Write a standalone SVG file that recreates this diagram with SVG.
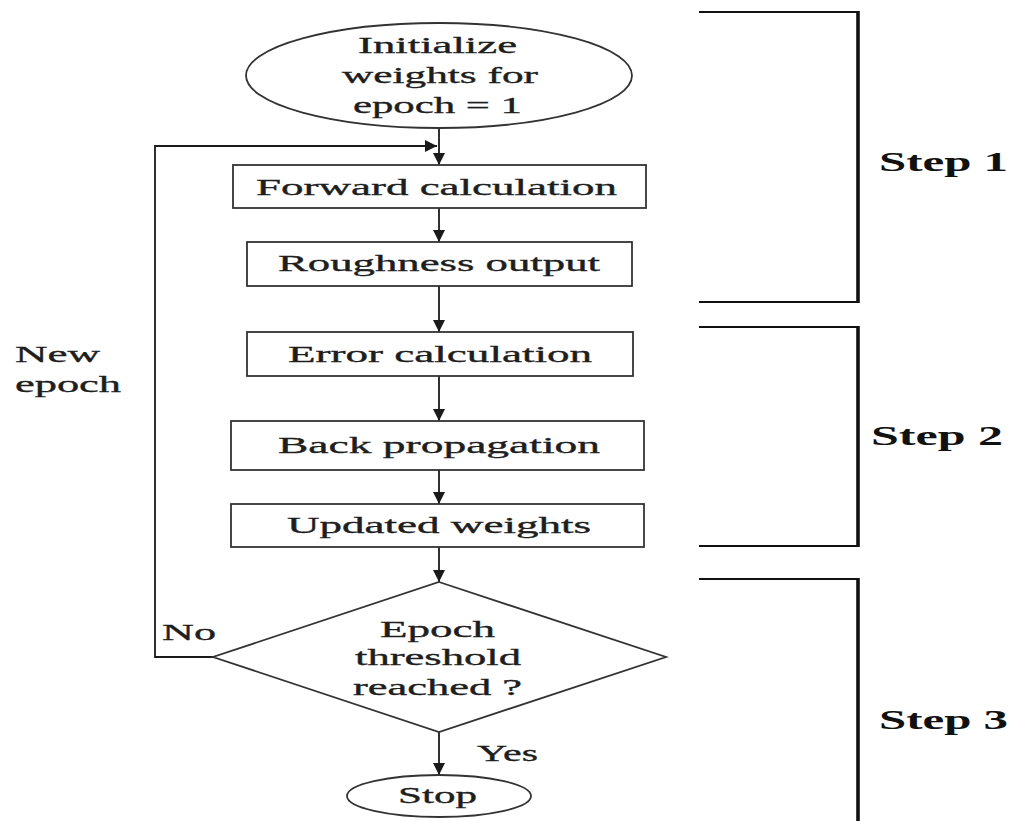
<svg xmlns="http://www.w3.org/2000/svg" width="1014" height="821" viewBox="0 0 1014 821">
<defs>
<marker id="ah" viewBox="0 0 12 12" refX="12" refY="6" markerWidth="12" markerHeight="12" markerUnits="userSpaceOnUse" orient="auto">
<path d="M0,0 L12,6 L0,12 Z" fill="#1a1a1a"/>
</marker>
<style>
.shape{fill:#fff;stroke:#333;stroke-width:1.8}
.t{font-family:"Liberation Serif","Times New Roman",serif;font-size:24px;fill:#1e1e1e;stroke:#1e1e1e;stroke-width:0.35}
.s{font-family:"Liberation Serif","Times New Roman",serif;font-size:27px;font-weight:bold;fill:#111}
.c{fill:none;stroke:#1a1a1a;stroke-width:1.8}
.br{fill:none;stroke:#111;stroke-width:2.2}
.bv{fill:none;stroke:#111;stroke-width:3.6}
</style>
</defs>
<rect width="1014" height="821" fill="#fff"/>

<g id="connectors">
<line class="c" x1="439" y1="128" x2="439" y2="165" marker-end="url(#ah)"/>
<line class="c" x1="439" y1="208" x2="439" y2="242" marker-end="url(#ah)"/>
<line class="c" x1="439" y1="286" x2="439" y2="332" marker-end="url(#ah)"/>
<line class="c" x1="439" y1="376" x2="439" y2="421" marker-end="url(#ah)"/>
<line class="c" x1="439" y1="470" x2="439" y2="504" marker-end="url(#ah)"/>
<line class="c" x1="439" y1="547" x2="439" y2="582" marker-end="url(#ah)"/>
<line class="c" x1="439" y1="732" x2="439" y2="775" marker-end="url(#ah)"/>
<polyline class="c" points="213,657 155,657 155,146 437,146" marker-end="url(#ah)"/>
</g>

<g id="init">
<ellipse class="shape" cx="439" cy="75.5" rx="193" ry="52.5"/>
<text class="t" x="358" y="53" textLength="159" lengthAdjust="spacingAndGlyphs">Initialize</text>
<text class="t" x="342" y="83" textLength="196" lengthAdjust="spacingAndGlyphs">weights for</text>
<text class="t" x="353" y="113" textLength="169" lengthAdjust="spacingAndGlyphs">epoch = 1</text>
</g>

<g id="forward">
<rect class="shape" x="233" y="165" width="413" height="43"/>
<text class="t" x="256" y="195" textLength="361" lengthAdjust="spacingAndGlyphs">Forward calculation</text>
</g>

<g id="roughness">
<rect class="shape" x="247" y="242" width="385" height="44"/>
<text class="t" x="278" y="271" textLength="322" lengthAdjust="spacingAndGlyphs">Roughness output</text>
</g>

<g id="error">
<rect class="shape" x="247" y="332" width="386" height="44"/>
<text class="t" x="288" y="362" textLength="304" lengthAdjust="spacingAndGlyphs">Error calculation</text>
</g>

<g id="backprop">
<rect class="shape" x="231" y="421" width="413" height="49"/>
<text class="t" x="278" y="453" textLength="322" lengthAdjust="spacingAndGlyphs">Back propagation</text>
</g>

<g id="updated">
<rect class="shape" x="231" y="504" width="413" height="43"/>
<text class="t" x="287" y="533" textLength="304" lengthAdjust="spacingAndGlyphs">Updated weights</text>
</g>

<g id="decision">
<polygon class="shape" points="439,582 666,657 439,732 213,657"/>
<text class="t" x="380" y="637" textLength="115" lengthAdjust="spacingAndGlyphs">Epoch</text>
<text class="t" x="355" y="665" textLength="166" lengthAdjust="spacingAndGlyphs">threshold</text>
<text class="t" x="353" y="695" textLength="169" lengthAdjust="spacingAndGlyphs">reached ?</text>
</g>

<g id="stop">
<ellipse class="shape" cx="439" cy="796" rx="92" ry="21"/>
<text class="t" x="398" y="803" textLength="79" lengthAdjust="spacingAndGlyphs">Stop</text>
</g>

<g id="labels">
<text class="t" x="162" y="640" textLength="54" lengthAdjust="spacingAndGlyphs">No</text>
<text class="t" x="477" y="761" textLength="61" lengthAdjust="spacingAndGlyphs">Yes</text>
<text class="t" x="15" y="362" textLength="85" lengthAdjust="spacingAndGlyphs">New</text>
<text class="t" x="15" y="392" textLength="106" lengthAdjust="spacingAndGlyphs">epoch</text>
</g>

<g id="step1">
<polyline class="br" points="699,12 858,12"/>
<polyline class="br" points="699,302 858,302"/>
<line class="bv" x1="858" y1="11" x2="858" y2="303"/>
<text class="s" x="879" y="171" textLength="129" lengthAdjust="spacingAndGlyphs">Step 1</text>
</g>

<g id="step2">
<polyline class="br" points="699,327 858,327"/>
<polyline class="br" points="699,546 858,546"/>
<line class="bv" x1="858" y1="326" x2="858" y2="547"/>
<text class="s" x="871" y="445" textLength="132" lengthAdjust="spacingAndGlyphs">Step 2</text>
</g>

<g id="step3">
<polyline class="br" points="699,579 858,579"/>
<line class="bv" x1="858" y1="578" x2="858" y2="821"/>
<text class="s" x="879" y="729" textLength="129" lengthAdjust="spacingAndGlyphs">Step 3</text>
</g>
</svg>
